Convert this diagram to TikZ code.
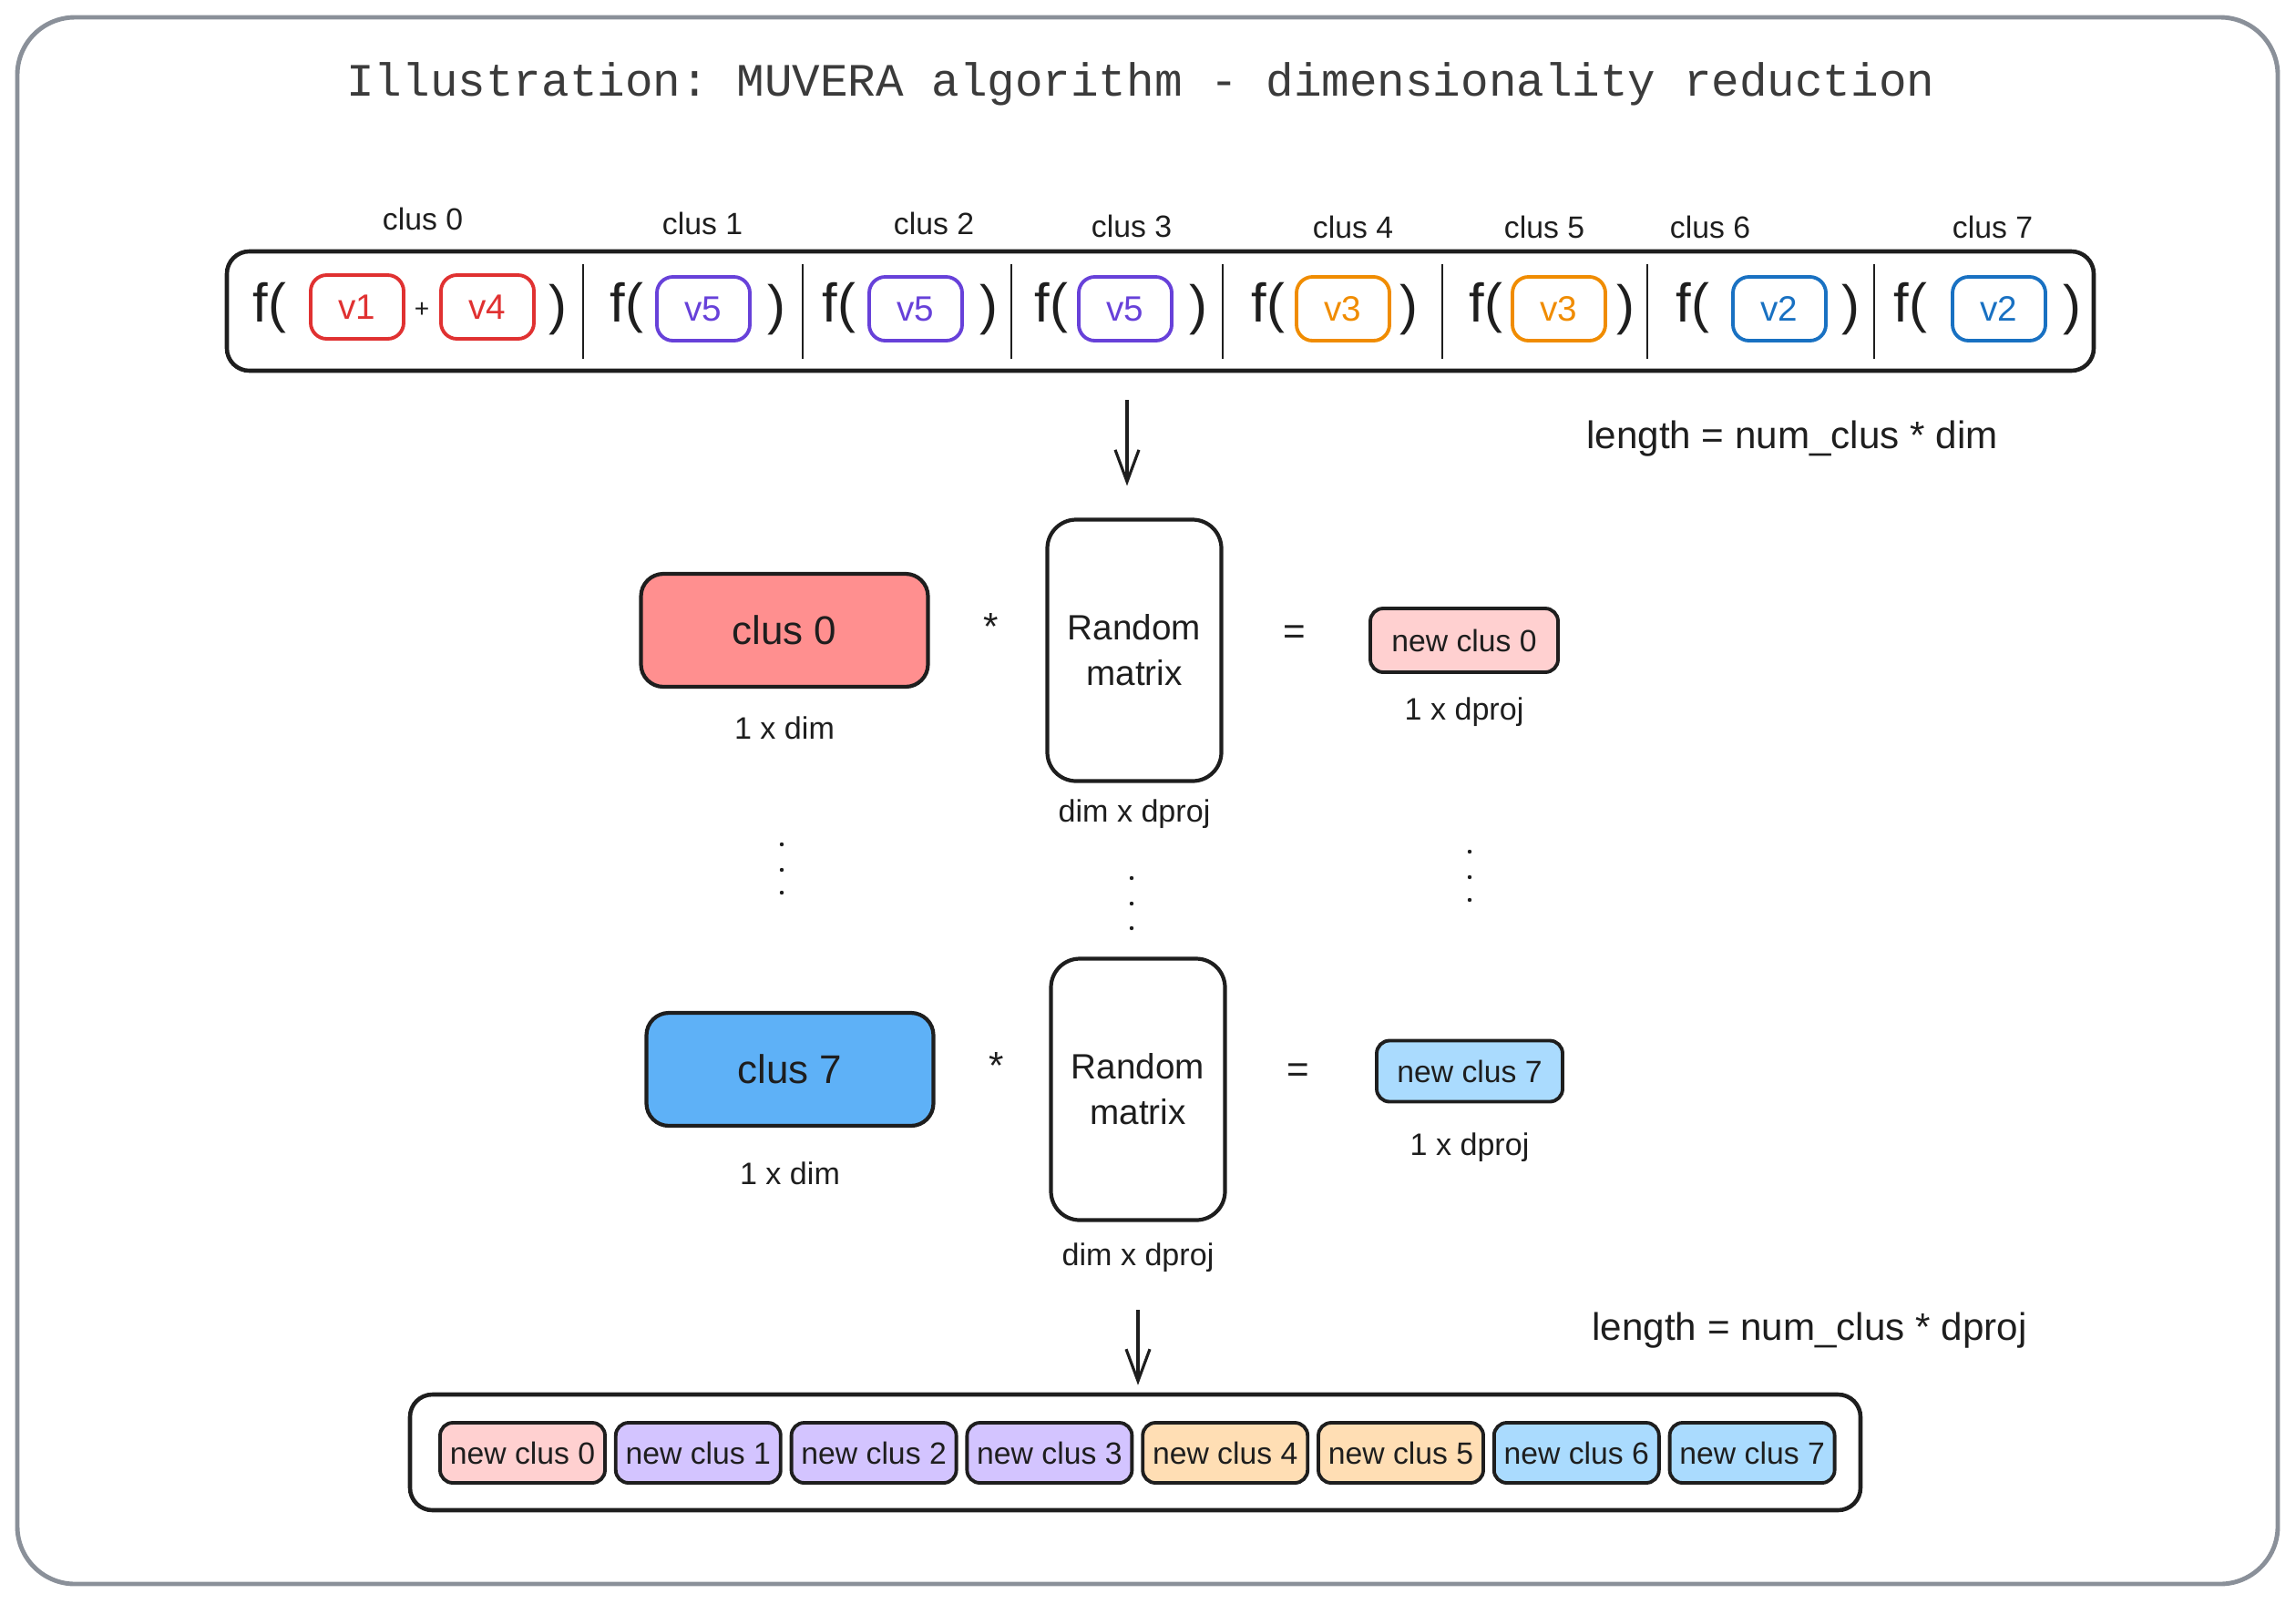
\documentclass[tikz,border=0pt]{standalone}
\usepackage{fontspec}
\setmainfont{Liberation Sans}
\setmonofont{Liberation Mono}
\usepackage{tikz}
\usetikzlibrary{arrows.meta,positioning}
\definecolor{ink}{HTML}{1E1E1E}
\definecolor{framegray}{HTML}{8A9099}
\definecolor{titleink}{HTML}{3B3B3B}
\definecolor{vred}{HTML}{E03131}
\definecolor{vviolet}{HTML}{6741D9}
\definecolor{vorange}{HTML}{F08C00}
\definecolor{vblue}{HTML}{1971C2}
\definecolor{salmon}{HTML}{FF8F8F}
\definecolor{sky}{HTML}{5EB1F7}
\definecolor{rose}{HTML}{FFD0D0}
\definecolor{lilac}{HTML}{D3C4FF}
\definecolor{peach}{HTML}{FFDEB4}
\definecolor{ice}{HTML}{AADBFE}

\begin{document}
\begin{tikzpicture}[font=\fontsize{9.6}{11}\selectfont, node distance=2mm, text=ink,
   bar/.style={draw=ink,line width=1.3pt,rounded corners=7pt},
   vec/.style={draw=#1,text=#1,line width=1.1pt,rounded corners=5pt,minimum width=1.02cm,minimum height=0.7cm,font=\fontsize{11}{13}\selectfont},
   fn/.style={font=\fontsize{17}{20}\selectfont,inner sep=0pt},
   blk/.style={draw=ink,fill=#1,line width=1.2pt,rounded corners=7pt,minimum width=3.15cm,minimum height=1.24cm,font=\fontsize{12.5}{15}\selectfont},
   rnd/.style={draw=ink,line width=1.2pt,rounded corners=9pt,minimum width=1.91cm,minimum height=2.87cm,align=center,font=\fontsize{11}{14.2}\selectfont},
   small/.style={draw=ink,fill=#1,line width=1.1pt,rounded corners=4pt,inner sep=2pt,minimum height=0.68cm},
   op/.style={font=\fontsize{12}{14}\selectfont},
   lenlab/.style={font=\fontsize{12}{14}\selectfont},
   arr/.style={-{Straight Barb[length=3.5mm,width=2.6mm]},ink,line width=0.9pt},
   dimtxt/.style={font=\fontsize{9.7}{11}\selectfont}]
  \useasboundingbox (0,0) rectangle (25.2,-17.6);
  \draw[framegray,line width=1.4pt,rounded corners=18pt] (0.19,-0.19) rectangle (25.0,-17.39);
  \node[font=\ttfamily\fontsize{14.5}{17}\selectfont,text=titleink] (title) at (12.52,-0.92) {Illustration: MUVERA algorithm - dimensionality reduction};

  \node[bar,minimum width=20.49cm,minimum height=1.31cm] (top) at (12.735,-3.415) {};
  \node[fn] (f0) at (2.96,-3.38) {f(};
  \node[vec=vred] (v0a) at (3.92,-3.37) {v1};
  \node[font=\fontsize{8}{9}\selectfont] (plus) at (4.63,-3.40) {+};
  \node[vec=vred] (v0b) at (5.35,-3.37) {v4};
  \node[fn] (p0) at (6.12,-3.40) {)};
  \foreach \fx/\vx/\px/\vc/\vt [count=\i] in {6.88/7.72/8.52/vviolet/v5,9.21/10.05/10.85/vviolet/v5,11.54/12.35/13.15/vviolet/v5,13.92/14.74/15.46/vorange/v3,16.31/17.11/17.84/vorange/v3,18.58/19.53/20.31/vblue/v2,20.97/21.94/22.74/vblue/v2}{
    \node[fn] (f\i) at (\fx,-3.38) {f(};
    \node[vec=\vc] (v\i) at (\vx,-3.39) {\vt};
    \node[fn] (p\i) at (\px,-3.40) {)};
  }
  \foreach \x in {6.40,8.81,11.10,13.42,15.83,18.08,20.57}
    \draw[ink,line width=0.8pt] (\x,-2.90) -- (\x,-3.94);
  \foreach \x/\y [count=\i from 0] in {4.64/2.40,7.71/2.45,10.25/2.45,12.42/2.48,14.85/2.49,16.95/2.49,18.77/2.49,21.87/2.49}
    \node (lab\i) at (\x,-\y) {clus \i};
  \node[lenlab] (len1) at (19.67,-4.82) {length = num\_clus * dim};

  \node[blk=salmon] (c0) at (8.61,-6.92) {clus 0};
  \node[dimtxt,below=1.8mm of c0] (c0d) {1 x dim};
  \node[op] (m0) at (10.88,-6.88) {*};
  \node[rnd] (r0) at (12.45,-7.14) {Random\\matrix};
  \node[dimtxt,below=0.6mm of r0] (r0d) {dim x dproj};
  \node[op] (e0) at (14.21,-6.97) {=};
  \node[small=rose,minimum width=2.06cm,minimum height=0.70cm] (n0) at (16.07,-7.03) {new clus 0};
  \node[dimtxt,below=1.3mm of n0] (n0d) {1 x dproj};
  \draw[arr,shorten <=3mm,shorten >=3.5mm] ([xshift=-0.8mm]top.south -| r0.north) -- ([xshift=-0.8mm]r0.north);

  \foreach \x/\y in {8.58/9.27,8.58/9.55,8.58/9.80,12.42/9.64,12.42/9.92,12.42/10.19,16.13/9.35,16.13/9.63,16.13/9.88}
    \fill[ink] (\x,-\y) circle (0.022);

  \node[blk=sky] (c7) at (8.67,-11.74) {clus 7};
  \node[dimtxt,below=2.5mm of c7] (c7d) {1 x dim};
  \node[op] (m7) at (10.94,-11.70) {*};
  \node[rnd] (r7) at (12.49,-11.96) {Random\\matrix};
  \node[dimtxt,below=1.1mm of r7] (r7d) {dim x dproj};
  \node[op] (e7) at (14.25,-11.78) {=};
  \node[small=ice,minimum width=2.04cm,minimum height=0.67cm] (n7) at (16.13,-11.76) {new clus 7};
  \node[dimtxt,below=2mm of n7] (n7d) {1 x dproj};
  \node[lenlab] (len2) at (19.86,-14.61) {length = num\_clus * dproj};

  \node[bar,minimum width=15.92cm,minimum height=1.27cm] (bot) at (12.46,-15.945) {};
  \foreach \c [count=\i from 0] in {rose,lilac,lilac,lilac,peach,peach,ice,ice}
    \node[small=\c,minimum width=1.81cm,minimum height=0.66cm] (b\i) at ({5.735+1.928*\i},-15.95) {new clus \i};
  \draw[arr,shorten <=2.9mm,shorten >=0.8mm] (r7d) -- (bot.north -| r7d);
\end{tikzpicture}
\end{document}
